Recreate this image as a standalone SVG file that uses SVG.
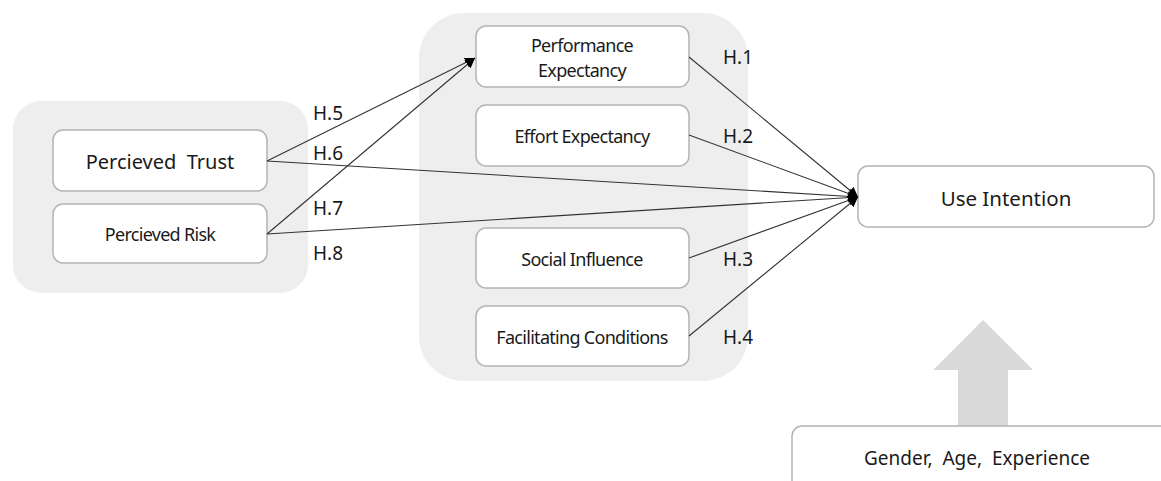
<svg xmlns="http://www.w3.org/2000/svg" width="1161" height="481" viewBox="0 0 1161 481">
<style>
.grp{fill:#eeeeee}
.box{fill:#ffffff;stroke:#b4b4b4;stroke-width:1.5}
.t{font-family:"Noto Sans","DejaVu Sans",sans-serif;fill:#1a1a1a;text-anchor:middle;dominant-baseline:central;white-space:pre}
.c{font-size:18px;letter-spacing:-0.7px}
.lab{font-family:"Noto Sans","DejaVu Sans",sans-serif;fill:#1a1a1a;font-size:19px;dominant-baseline:central}
.ln{stroke:#333333;stroke-width:1.1;fill:none;marker-end:url(#ah)}
</style>
<defs>
<marker id="ah" viewBox="0 0 10 10" refX="10" refY="5" markerWidth="10" markerHeight="10" markerUnits="userSpaceOnUse" orient="auto">
<path d="M0,0 L10,5 L0,10 z" fill="#000"/>
</marker>
</defs>
<rect class="grp" x="13" y="101" width="295" height="192" rx="28"/>
<rect class="grp" x="419" y="13" width="329" height="368" rx="45"/>
<g id="trust"><rect class="box" x="53" y="130" width="214" height="61" rx="10"/><text class="t" x="160" y="161" font-size="20" xml:space="preserve">Percieved  Trust</text></g>
<g id="risk"><rect class="box" x="53" y="204" width="214" height="59" rx="10"/><text class="t c" x="160" y="234">Percieved Risk</text></g>
<g id="pe"><rect class="box" x="476" y="26" width="213" height="61" rx="10"/><text class="t c" x="582" y="45">Performance</text><text class="t c" x="582" y="70">Expectancy</text></g>
<g id="ee"><rect class="box" x="476" y="105" width="213" height="61" rx="10"/><text class="t c" x="582" y="136">Effort Expectancy</text></g>
<g id="si"><rect class="box" x="476" y="228" width="213" height="60" rx="10"/><text class="t c" x="582" y="259">Social Influence</text></g>
<g id="fc"><rect class="box" x="476" y="306" width="213" height="60" rx="10"/><text class="t c" x="582" y="337">Facilitating Conditions</text></g>
<g id="ui"><rect class="box" x="858" y="166" width="296" height="61" rx="10"/><text class="t" x="1006" y="198" font-size="20.5">Use Intention</text></g>
<g id="mod"><path d="M958,426 L958,370 L933,370 L983,320 L1033,370 L1008,370 L1008,426 z" fill="#d9d9d9"/><rect class="box" x="792" y="426" width="400" height="80" rx="10"/><text class="t" x="977" y="458" font-size="19" xml:space="preserve">Gender,  Age,  Experience</text></g>
<g id="connectors">
<line class="ln" x1="267" y1="161" x2="475" y2="58"/>
<line class="ln" x1="267" y1="234" x2="475" y2="58"/>
<line class="ln" x1="267" y1="161" x2="858" y2="197"/>
<line class="ln" x1="267" y1="234" x2="858" y2="197"/>
<line class="ln" x1="689" y1="57" x2="858" y2="197"/>
<line class="ln" x1="689" y1="135" x2="858" y2="197"/>
<line class="ln" x1="689" y1="258" x2="858" y2="197"/>
<line class="ln" x1="689" y1="336" x2="858" y2="197"/>
<text class="lab" x="313" y="113">H.5</text>
<text class="lab" x="313" y="153">H.6</text>
<text class="lab" x="313" y="208">H.7</text>
<text class="lab" x="313" y="253">H.8</text>
<text class="lab" x="723" y="57">H.1</text>
<text class="lab" x="723" y="136">H.2</text>
<text class="lab" x="723" y="259">H.3</text>
<text class="lab" x="723" y="337">H.4</text>
</g>
</svg>
